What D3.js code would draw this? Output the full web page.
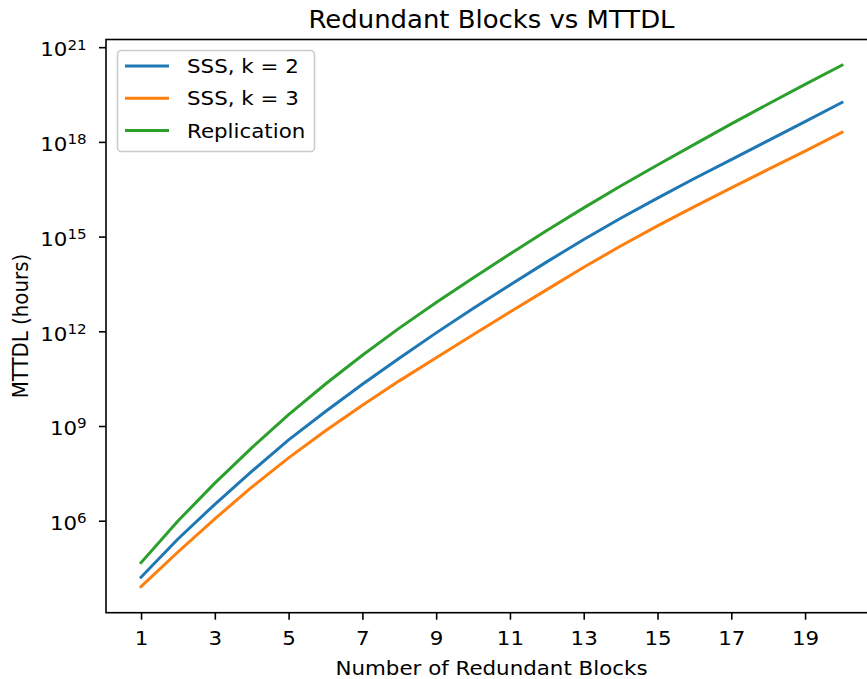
<!DOCTYPE html>
<html>
<head>
<meta charset="utf-8">
<script src="https://cdn.jsdelivr.net/npm/d3@7"></script>
<style>
  html, body { margin: 0; padding: 0; background: #fff; }
  svg { display: block; font-family: "DejaVu Sans", sans-serif; }
</style>
</head>
<body>
<svg id="chart" width="867" height="679"></svg>
<script>
// Number of redundant blocks (x values)
const blocks = [1, 2, 3, 4, 5, 6, 7, 8, 9, 10, 11, 12, 13, 14, 15, 16, 17, 18, 19, 20];

// MTTDL in hours for each scheme
const sssK2 = [1.62e4, 2.63e5, 3.31e6, 3.63e7, 3.63e8, 2.88e9, 2.09e10, 1.41e11, 8.91e11, 5.25e12,
               2.95e13, 1.58e14, 8.13e14, 3.80e15, 1.66e16, 6.92e16, 2.75e17, 1.10e18, 4.37e18, 1.78e19];
const sssK3 = [8.13e3, 1.02e5, 1.15e6, 1.15e7, 9.77e7, 7.08e8, 4.57e9, 2.69e10, 1.45e11, 7.76e11,
               4.07e12, 2.09e13, 1.07e14, 5.01e14, 2.19e15, 8.91e15, 3.47e16, 1.35e17, 5.13e17, 2.00e18];
const replication = [4.68e4, 9.8e5, 1.55e7, 2.04e8, 2.29e9, 2.14e10, 1.74e11, 1.26e12, 8.13e12, 4.90e13,
                     2.82e14, 1.55e15, 8.13e15, 3.98e16, 1.86e17, 8.32e17, 3.72e18, 1.58e19, 6.61e19, 2.69e20];

const seriesNames = ["SSS, k = 2", "SSS, k = 3", "Replication"];
const seriesColors = ["#1f77b4", "#ff7f0e", "#2ca02c"];

// Axis ticks
const xTicks = [1, 3, 5, 7, 9, 11, 13, 15, 17, 19];
const yTickExponents = [6, 9, 12, 15, 18, 21];

const titleText = "Redundant Blocks vs MTTDL";
const xLabel = "Number of Redundant Blocks";
const yLabel = "MTTDL (hours)";

const svg = d3.select("#chart");

// Plot area and text styling
const plotLeft = 106, plotRight = 877, plotTop = 39.5, plotBottom = 612.7;
const stretch = 1.08;          // horizontal widening applied to every text
const fontSize = 19.8;
const supSize = 14;

const x = d3.scaleLinear().domain([0.05, 20.95]).range([plotLeft, plotRight]);
const y = d3.scaleLog().domain([1.22e3, 1.75e21]).range([plotBottom, plotTop]);

// Lines
const series = [sssK2, sssK3, replication];
const line = d3.line()
  .x((d, i) => x(blocks[i]))
  .y(d => y(d));

const plot = svg.append("g");
series.forEach((vals, si) => {
  plot.append("path")
    .datum(vals)
    .attr("fill", "none")
    .attr("stroke", seriesColors[si])
    .attr("stroke-width", 3)
    .attr("stroke-linejoin", "round")
    .attr("stroke-linecap", "square")
    .attr("d", line);
});

// X axis
const xAxis = svg.append("g")
  .attr("transform", `translate(0,${plotBottom})`)
  .call(d3.axisBottom(x).tickValues(xTicks).tickSize(7).tickPadding(11).tickFormat(d3.format("d")));
xAxis.select(".domain").remove();
xAxis.selectAll(".tick line").attr("stroke", "#000").attr("stroke-width", 1.6);
xAxis.selectAll(".tick text")
  .attr("fill", "#000")
  .attr("transform", `scale(${stretch},1)`)
  .style("font-family", "DejaVu Sans")
  .style("font-size", fontSize + "px");

// Y axis with power-of-ten labels
const yAxis = svg.append("g")
  .attr("transform", `translate(${plotLeft},0)`)
  .call(d3.axisLeft(y).tickValues(yTickExponents.map(e => Math.pow(10, e))).tickSize(7).tickPadding(6).tickFormat(() => ""));
yAxis.select(".domain").remove();
yAxis.selectAll(".tick line").attr("stroke", "#000").attr("stroke-width", 1.6);
yAxis.selectAll(".tick text")
  .attr("fill", "#000")
  .attr("x", -19.3 / stretch)
  .attr("dy", "0.44em")
  .attr("transform", `scale(${stretch},1)`)
  .style("font-family", "DejaVu Sans")
  .style("font-size", fontSize + "px")
  .each(function(d, i) {
    const t = d3.select(this);
    t.text(null);
    t.append("tspan").text("10");
    t.append("tspan")
      .attr("dy", "-6.8px")
      .style("font-size", supSize + "px")
      .text(yTickExponents[i]);
  });

// Frame
svg.append("rect")
  .attr("x", plotLeft).attr("y", plotTop)
  .attr("width", plotRight - plotLeft).attr("height", plotBottom - plotTop)
  .attr("fill", "none")
  .attr("stroke", "#000")
  .attr("stroke-width", 1.6);

// Text placed at (px, py), widened horizontally
function placeText(px, py, str, size, extra) {
  return svg.append("text")
    .attr("transform", `translate(${px},${py}) scale(${stretch},1)` + (extra || ""))
    .style("font-size", size + "px")
    .text(str);
}

// Title and axis labels
placeText((plotLeft + plotRight) / 2, 28, titleText, 24).attr("text-anchor", "middle");
placeText((plotLeft + plotRight) / 2, 675, xLabel, fontSize).attr("text-anchor", "middle");
placeText(28, (plotTop + plotBottom) / 2, yLabel, fontSize, " rotate(-90)").attr("text-anchor", "middle");

// Legend
const legend = svg.append("g");
legend.append("rect")
  .attr("x", 117.5).attr("y", 50.5)
  .attr("width", 197).attr("height", 101)
  .attr("rx", 4).attr("ry", 4)
  .attr("fill", "#fff").attr("fill-opacity", 0.8)
  .attr("stroke", "#cccccc").attr("stroke-width", 1.6);
seriesNames.forEach((name, i) => {
  const yy = 66 + i * 32.2;
  legend.append("line")
    .attr("x1", 125).attr("x2", 169)
    .attr("y1", yy).attr("y2", yy)
    .attr("stroke", seriesColors[i]).attr("stroke-width", 3);
  placeText(187, yy, name, fontSize).attr("dy", "0.36em");
});
</script>
</body>
</html>
